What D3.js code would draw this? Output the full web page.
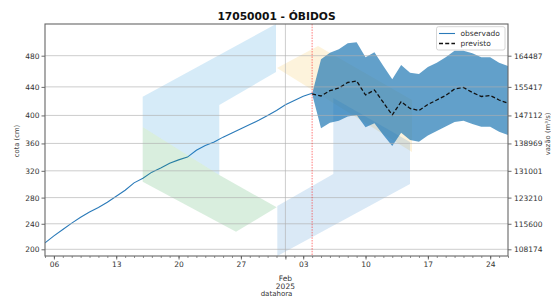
<!DOCTYPE html>
<html><head><meta charset="utf-8">
<script src="https://cdn.jsdelivr.net/npm/d3@7"></script>
<style>body{margin:0;background:#fff}svg{display:block;font-family:"DejaVu Sans",sans-serif}</style>
</head><body><svg id="c" width="551" height="299"></svg>
<script>
// ---- data ----
const title = "17050001 - ÓBIDOS";
const cotaTicks  = [200, 240, 280, 320, 360, 400, 440, 480];
const vazaoTicks = [108174, 115600, 123210, 131001, 138969, 147112, 155417, 164487];
const obsStart = "2025-01-05";
const cotaObs = [210,221,231,241,250,258,265,273,282,291,302,309,318,324,331,336,340,350,357,362,369,375,381,387,393,400,407,415,421,427,431];
const fcStart = "2025-02-04";
const vazaoPrev = [153351,152769,154311,155096,156696,157132,153060,154514,150878,147242,151111,149133,148551,150296,151605,152914,154806,155242,153787,152624,152914,151605,150645];
const vazaoSup  = [153351,163445,165365,166354,168099,168390,164027,165481,161496,157627,161787,159547,159169,161205,162456,164027,165947,165947,165190,164027,164027,162456,161496];
const vazaoInf  = [153351,143373,145002,145584,146806,147242,143664,144827,141424,138224,142093,139969,139475,141278,142587,143897,145206,145584,144624,143839,143839,142384,141424];
const xDomain = ["2025-01-05", "2025-02-26"];
const weekTicks = ["2025-01-06","2025-01-13","2025-01-20","2025-01-27","2025-02-03","2025-02-10","2025-02-17","2025-02-24"];
const monthTick = "2025-02-01";
const forecastLine = "2025-02-04";

// ---- layout ----
const L = 45, R = 508, T = 24, B = 256;
const svg = d3.select("#c");
const pd = s => new Date(s + "T00:00:00Z");

const x = d3.scaleUtc().domain(xDomain.map(pd)).range([L, R]);
const y = d3.scaleLinear().domain([106225, 173708]).range([B, T]);
const rating = d3.scaleLinear().domain(cotaTicks).range(vazaoTicks);
const yCota = d3.scaleLinear().domain(cotaTicks).range(vazaoTicks.map(v => y(v)));

const obs = cotaObs.map((c, i) => ({d: d3.utcDay.offset(pd(obsStart), i), q: rating(c)}));
const fc = vazaoPrev.map((q, i) => ({d: d3.utcDay.offset(pd(fcStart), i), q, hi: vazaoSup[i], lo: vazaoInf[i]}));

const clipId = "clipPlot";
svg.append("defs").append("clipPath").attr("id", clipId)
  .append("rect").attr("x", L).attr("y", T).attr("width", R - L).attr("height", B - T);
const plot = svg.append("g").attr("clip-path", `url(#${clipId})`);

const poly = (g, pts, col, op) => g.append("polygon").attr("points", pts.map(p => p.join(",")).join(" "))
  .attr("fill", col).attr("fill-opacity", op);
// watermark part behind the band
const wmBack = plot.append("g");
poly(wmBack, [[277,68],[318,46],[412,100],[412,152]], "#f3b831", 0.17);

// observed line
plot.append("path").datum(obs)
  .attr("fill", "none").attr("stroke", "#2a7ab9").attr("stroke-width", 1.1)
  .attr("d", d3.line().x(d => x(d.d)).y(d => y(d.q)));

// forecast band
plot.append("path").datum(fc)
  .attr("fill", "#1f77b4").attr("fill-opacity", 0.7)
  .attr("d", d3.area().x(d => x(d.d)).y0(d => y(d.lo)).y1(d => y(d.hi)));

// watermark (logo) in front
const wm = plot.append("g");
poly(wm, [[142.7,127],[219.3,175],[276.7,207.3],[236,231.7],[142.7,181.7]], "#1f9b3d", 0.17);
poly(wm, [[142.7,96.7],[276,24],[276,72],[219.3,105],[219.3,175],[142.7,127]], "#0e8ad6", 0.17);
poly(wm, [[277.3,206],[333.3,174],[333.3,98],[410,142],[410,184],[277.3,256]], "#076cc4", 0.15);

// forecast median (dashed)
plot.append("path").datum(fc)
  .attr("fill", "none").attr("stroke", "#111").attr("stroke-width", 1.3)
  .attr("stroke-dasharray", "4,2.2")
  .attr("d", d3.line().x(d => x(d.d)).y(d => y(d.q)));

// grid
const grid = svg.append("g").attr("stroke", "#b0b0b0").attr("stroke-opacity", 0.7).attr("stroke-width", 0.9);
cotaTicks.forEach(c => grid.append("line").attr("x1", L).attr("x2", R).attr("y1", yCota(c)).attr("y2", yCota(c)));
grid.append("line").attr("x1", x(pd(monthTick))).attr("x2", x(pd(monthTick))).attr("y1", T).attr("y2", B);

// forecast start line
svg.append("line").attr("x1", x(pd(forecastLine))).attr("x2", x(pd(forecastLine)))
  .attr("y1", T).attr("y2", B).attr("stroke", "#ff2020").attr("stroke-opacity", 0.6)
  .attr("stroke-width", 1).attr("stroke-dasharray", "1.5,1.2");

// axes
const fs = 7.5, tc = "#333";
const axL = svg.append("g").attr("transform", `translate(${L},0)`)
  .call(d3.axisLeft(yCota).tickValues(cotaTicks).tickSize(3.5).tickPadding(2).tickFormat(d3.format("d")));
const axR = svg.append("g").attr("transform", `translate(${R},0)`)
  .call(d3.axisRight(y).tickValues(vazaoTicks).tickSize(3.5).tickPadding(2.5).tickFormat(d3.format("d")));
const days = d3.utcDay.range(pd(xDomain[0]), d3.utcDay.offset(pd(xDomain[1]), 1));
const axBminor = svg.append("g").attr("transform", `translate(0,${B})`)
  .call(d3.axisBottom(x).tickValues(days).tickSize(2).tickFormat(""));
const axB = svg.append("g").attr("transform", `translate(0,${B})`)
  .call(d3.axisBottom(x).tickValues(weekTicks.map(pd)).tickSize(3.5).tickPadding(2).tickFormat(d3.utcFormat("%d")));
const axM = svg.append("g").attr("transform", `translate(0,${B})`)
  .call(d3.axisBottom(x).tickValues([pd(monthTick)]).tickSize(3.5).tickFormat(""));
[axL, axR, axB, axBminor, axM].forEach(a => {
  a.select(".domain").remove();
  a.selectAll("text").attr("font-size", fs).attr("fill", tc).attr("font-family", "DejaVu Sans");
  a.selectAll("line").attr("stroke", "#444").attr("stroke-width", 0.8);
});
axBminor.selectAll("line").attr("stroke-width", 0.6);
const mt = svg.append("text").attr("x", x(pd(monthTick))).attr("text-anchor", "middle")
  .attr("font-size", fs).attr("fill", tc);
mt.append("tspan").attr("x", x(pd(monthTick))).attr("y", 280.5).text(d3.utcFormat("%b")(pd(monthTick)));
mt.append("tspan").attr("x", x(pd(monthTick))).attr("y", 288.5).text(d3.utcFormat("%Y")(pd(monthTick)));

// frame
svg.append("rect").attr("x", L).attr("y", T).attr("width", R - L).attr("height", B - T)
  .attr("fill", "none").attr("stroke", "#666").attr("stroke-width", 1.1);

// labels
svg.append("text").attr("x", (L + R) / 2).attr("y", 20).attr("text-anchor", "middle")
  .attr("font-size", 10.7).attr("font-weight", "bold").attr("fill", "#111").text(title);
svg.append("text").attr("x", (L + R) / 2).attr("y", 296).attr("text-anchor", "middle")
  .attr("font-size", 7).attr("fill", tc).text("datahora");
svg.append("text").attr("transform", `translate(19,${(T + B) / 2 + 1}) rotate(-90)`).attr("text-anchor", "middle")
  .attr("font-size", 6.8).attr("fill", "#444").text("cota (cm)");
svg.append("text").attr("transform", `translate(550,${(T + B) / 2 - 6}) rotate(-90)`).attr("text-anchor", "middle")
  .attr("font-size", 6.8).attr("fill", "#444").text("vazão (m³/s)");

// legend
const lg = svg.append("g");
lg.append("rect").attr("x", 436.5).attr("y", 26.7).attr("width", 68.5).attr("height", 23.3).attr("rx", 2)
  .attr("fill", "#fff").attr("fill-opacity", 0.85).attr("stroke", "#ccc").attr("stroke-width", 0.8);
const legItems = [{name: "observado", dash: null, col: "#2a7ab9", w: 1.1}, {name: "previsto", dash: "4,2.2", col: "#111", w: 1.3}];
legItems.forEach((it, i) => {
  const yy = 33.5 + i * 10;
  lg.append("line").attr("x1", 439).attr("x2", 455).attr("y1", yy).attr("y2", yy)
    .attr("stroke", it.col).attr("stroke-width", it.w).attr("stroke-dasharray", it.dash);
  lg.append("text").attr("x", 460.5).attr("y", yy + 2.7).attr("font-size", 7.5).attr("fill", tc).text(it.name);
});
</script></body></html>
